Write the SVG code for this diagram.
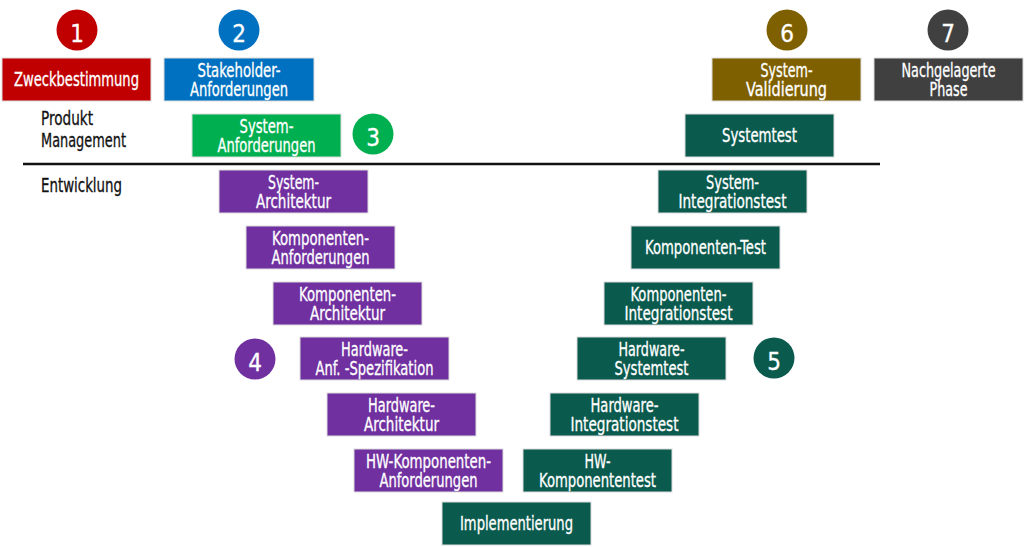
<svg xmlns="http://www.w3.org/2000/svg" width="1024" height="547" viewBox="0 0 1024 547">
<style>
.b{stroke:#dcdcdc;stroke-width:1}
.t{font-family:"Liberation Sans Narrow","DejaVu Sans Condensed","Liberation Sans",sans-serif;font-size:19px;fill:#fff;stroke:#fff;stroke-width:0.3;text-anchor:middle}
.l{font-family:"Liberation Sans Narrow","DejaVu Sans Condensed","Liberation Sans",sans-serif;font-size:19px;fill:#111;stroke:#111;stroke-width:0.3}
.n{font-family:"Liberation Sans Narrow","DejaVu Sans Condensed","Liberation Sans",sans-serif;font-size:24px;fill:#fff;stroke:#fff;stroke-width:0.3;text-anchor:middle}
.red{fill:#C00000}.blue{fill:#0070C0}.green{fill:#00B050}.pur{fill:#7030A0}.teal{fill:#0A5A4E}.brown{fill:#7F6000}.dark{fill:#404040}
</style>
<rect width="1024" height="547" fill="#fff"/>
<g id="connectors">
<line x1="23" y1="164" x2="880" y2="164" stroke="#111" stroke-width="2.5"/>
</g>
<g id="labels">
<text class="l" x="41" y="125" textLength="52" lengthAdjust="spacingAndGlyphs">Produkt</text>
<text class="l" x="41" y="146.5" textLength="85" lengthAdjust="spacingAndGlyphs">Management</text>
<text class="l" x="41" y="191.5" textLength="81" lengthAdjust="spacingAndGlyphs">Entwicklung</text>
</g>
<g id="c1"><circle cx="77" cy="30" r="20.5" class="red"/><text class="n" x="77" y="42">1</text></g>
<g id="c2"><circle cx="239" cy="30" r="20.5" class="blue"/><text class="n" x="239" y="42">2</text></g>
<g id="c3"><circle cx="373" cy="134" r="20.5" class="green"/><text class="n" x="373" y="146">3</text></g>
<g id="c4"><circle cx="255" cy="359" r="20.5" class="pur"/><text class="n" x="255" y="371">4</text></g>
<g id="c5"><circle cx="774" cy="358" r="20.5" class="teal"/><text class="n" x="774" y="370">5</text></g>
<g id="c6"><circle cx="787" cy="30" r="20.5" class="brown"/><text class="n" x="787" y="42">6</text></g>
<g id="c7"><circle cx="948" cy="30" r="20.5" class="dark"/><text class="n" x="948" y="42">7</text></g>

<g id="zweck"><rect x="2" y="58" width="149" height="43" class="b red"/><text class="t" x="76.5" y="85.5" textLength="125" lengthAdjust="spacingAndGlyphs">Zweckbestimmung</text></g>
<g id="stakeholder"><rect x="164" y="58" width="150" height="43" class="b blue"/><text class="t" x="239" y="76.5" textLength="83" lengthAdjust="spacingAndGlyphs">Stakeholder-</text><text class="t" x="239" y="96" textLength="98" lengthAdjust="spacingAndGlyphs">Anforderungen</text></g>
<g id="sysanf"><rect x="192" y="114" width="149" height="43" class="b green"/><text class="t" x="266.5" y="132.5" textLength="54" lengthAdjust="spacingAndGlyphs">System-</text><text class="t" x="266.5" y="152" textLength="98" lengthAdjust="spacingAndGlyphs">Anforderungen</text></g>
<g id="sysval"><rect x="712" y="58" width="149" height="43" class="b brown"/><text class="t" x="786.5" y="76.5" textLength="52" lengthAdjust="spacingAndGlyphs">System-</text><text class="t" x="786.5" y="96" textLength="81" lengthAdjust="spacingAndGlyphs">Validierung</text></g>
<g id="nach"><rect x="874" y="58" width="149" height="43" class="b dark"/><text class="t" x="948.5" y="76.5" textLength="94" lengthAdjust="spacingAndGlyphs">Nachgelagerte</text><text class="t" x="948.5" y="96" textLength="38" lengthAdjust="spacingAndGlyphs">Phase</text></g>
<g id="systemtest"><rect x="685" y="114" width="149" height="43" class="b teal"/><text class="t" x="759.5" y="141.5" textLength="75" lengthAdjust="spacingAndGlyphs">Systemtest</text></g>
<g id="sysarch"><rect x="219" y="170" width="149" height="43" class="b pur"/><text class="t" x="293.5" y="188.5" textLength="51" lengthAdjust="spacingAndGlyphs">System-</text><text class="t" x="293.5" y="208" textLength="75" lengthAdjust="spacingAndGlyphs">Architektur</text></g>
<g id="sysint"><rect x="658" y="170" width="149" height="43" class="b teal"/><text class="t" x="732.5" y="188.5" textLength="53" lengthAdjust="spacingAndGlyphs">System-</text><text class="t" x="732.5" y="208" textLength="108" lengthAdjust="spacingAndGlyphs">Integrationstest</text></g>
<g id="kompanf"><rect x="246" y="226" width="149" height="43" class="b pur"/><text class="t" x="320.5" y="244.5" textLength="97" lengthAdjust="spacingAndGlyphs">Komponenten-</text><text class="t" x="320.5" y="264" textLength="98" lengthAdjust="spacingAndGlyphs">Anforderungen</text></g>
<g id="komptest"><rect x="631" y="226" width="149" height="43" class="b teal"/><text class="t" x="705.5" y="253.5" textLength="121" lengthAdjust="spacingAndGlyphs">Komponenten-Test</text></g>
<g id="komparch"><rect x="273" y="282" width="149" height="43" class="b pur"/><text class="t" x="347.5" y="300.5" textLength="97" lengthAdjust="spacingAndGlyphs">Komponenten-</text><text class="t" x="347.5" y="320" textLength="75" lengthAdjust="spacingAndGlyphs">Architektur</text></g>
<g id="kompint"><rect x="604" y="282" width="149" height="43" class="b teal"/><text class="t" x="678.5" y="300.5" textLength="96" lengthAdjust="spacingAndGlyphs">Komponenten-</text><text class="t" x="678.5" y="320" textLength="108" lengthAdjust="spacingAndGlyphs">Integrationstest</text></g>
<g id="hwanf"><rect x="300" y="337" width="149" height="43" class="b pur"/><text class="t" x="374.5" y="355.5" textLength="67" lengthAdjust="spacingAndGlyphs">Hardware-</text><text class="t" x="374.5" y="375" textLength="118" lengthAdjust="spacingAndGlyphs">Anf. -Spezifikation</text></g>
<g id="hwsys"><rect x="577" y="337" width="149" height="43" class="b teal"/><text class="t" x="651.5" y="355.5" textLength="66" lengthAdjust="spacingAndGlyphs">Hardware-</text><text class="t" x="651.5" y="375" textLength="74" lengthAdjust="spacingAndGlyphs">Systemtest</text></g>
<g id="hwarch"><rect x="327" y="393" width="149" height="43" class="b pur"/><text class="t" x="401.5" y="411.5" textLength="67" lengthAdjust="spacingAndGlyphs">Hardware-</text><text class="t" x="401.5" y="431" textLength="75" lengthAdjust="spacingAndGlyphs">Architektur</text></g>
<g id="hwint"><rect x="550" y="393" width="149" height="43" class="b teal"/><text class="t" x="624.5" y="411.5" textLength="68" lengthAdjust="spacingAndGlyphs">Hardware-</text><text class="t" x="624.5" y="431" textLength="108" lengthAdjust="spacingAndGlyphs">Integrationstest</text></g>
<g id="hwkompanf"><rect x="354" y="449" width="149" height="43" class="b pur"/><text class="t" x="428.5" y="467.5" textLength="125" lengthAdjust="spacingAndGlyphs">HW-Komponenten-</text><text class="t" x="428.5" y="487" textLength="98" lengthAdjust="spacingAndGlyphs">Anforderungen</text></g>
<g id="hwkomp"><rect x="523" y="449" width="149" height="43" class="b teal"/><text class="t" x="597.5" y="467.5" textLength="26" lengthAdjust="spacingAndGlyphs">HW-</text><text class="t" x="597.5" y="487" textLength="117" lengthAdjust="spacingAndGlyphs">Komponententest</text></g>
<g id="impl"><rect x="442" y="502" width="149" height="43" class="b teal"/><text class="t" x="516.5" y="529.5" textLength="113" lengthAdjust="spacingAndGlyphs">Implementierung</text></g>
</svg>
